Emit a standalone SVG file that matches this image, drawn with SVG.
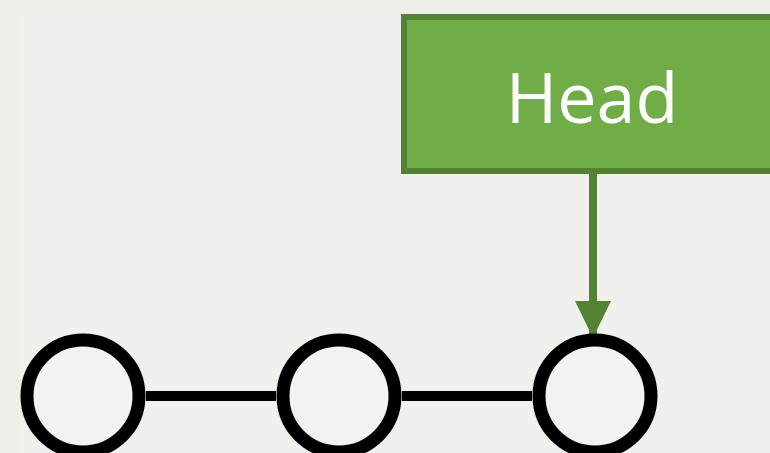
<svg xmlns="http://www.w3.org/2000/svg" width="770" height="453" viewBox="0 0 770 453">
<style>
.commit{fill:#f2f2f2;stroke:#000;stroke-width:13}
.edge{stroke:#000;stroke-width:10}
.ptr{stroke:#548235;stroke-width:8;fill:none}
.lbl{font-family:"Open Sans","Noto Sans",sans-serif;font-size:70px;fill:#fff}
</style>
<defs>
<marker id="ah" markerUnits="userSpaceOnUse" markerWidth="38" markerHeight="36" refX="37" refY="18" orient="auto">
<path d="M0,0 L37,18 L0,36 Z" fill="#548235"/>
</marker>
</defs>
<rect width="770" height="453" fill="#efefea"/>
<rect x="20" y="14" width="750" height="439" fill="#f0f0ec"/>
<g id="connectors">
<line class="edge" x1="146" y1="396" x2="276" y2="396"/>
<line class="edge" x1="402" y1="396" x2="532" y2="396"/>
<line class="ptr" x1="593" y1="174" x2="593" y2="338" marker-end="url(#ah)"/>
</g>
<g id="c1"><circle class="commit" cx="83" cy="396" r="56"/></g>
<g id="c2"><circle class="commit" cx="339" cy="396" r="56"/></g>
<g id="c3"><circle class="commit" cx="595" cy="396" r="56"/></g>
<g id="head">
<rect x="404" y="17" width="380" height="154" fill="#70ad47" stroke="#548235" stroke-width="6"/>
<text class="lbl" x="592" y="123" text-anchor="middle">Head</text>
</g>
</svg>
